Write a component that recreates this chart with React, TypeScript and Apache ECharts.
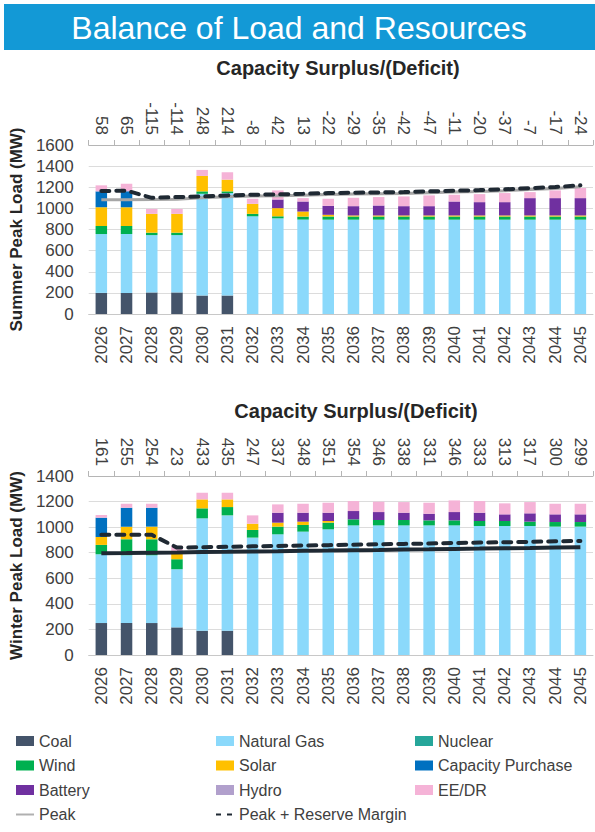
import React, { useEffect, useRef } from "react";
import * as echarts from "echarts";

const years = ["2026","2027","2028","2029","2030","2031","2032","2033","2034","2035","2036","2037","2038","2039","2040","2041","2042","2043","2044","2045"];

const surplusSummer = ["58","65","-115","-114","248","214","-8","42","13","-22","-29","-35","-42","-47","-11","-20","-37","-7","-17","-24"];
const surplusWinter = ["161","255","254","23","433","435","247","337","348","351","354","346","338","331","346","333","313","317","300","299"];

// Summer (MW)
const coalS = [200,200,204,204,175,175,0,0,0,0,0,0,0,0,0,0,0,0,0,0];
const gasS = [557,557,543,543,963,970,925,906,894,893,893,893,893,893,893,893,893,893,893,893];
const nuclearS = [0,0,0,0,0,0,0,0,0,0,0,0,0,0,0,0,0,0,0,0];
const windS = [76,76,23,23,23,16,23,19,28,30,30,30,30,30,30,30,30,30,30,30];
const solarS = [178,178,178,178,146,111,95,77,48,16,10,10,10,10,10,10,10,10,10,10];
const capS = [150,150,0,0,0,0,0,0,0,0,0,0,0,0,0,0,0,0,0,0];
const batteryS = [0,0,0,0,0,0,0,82,95,85,88,94,88,88,132,126,126,164,164,164];
const hydroS = [0,0,0,0,0,0,0,0,0,0,0,0,0,0,0,0,0,0,0,0];
const eeS = [57,73,47,47,57,70,48,86,32,67,79,80,92,102,64,76,86,57,73,96];
const peakS = [1082,1082,1084,1086,1100,1110,1116,1120,1125,1132,1135,1138,1141,1148,1154,1160,1167,1178,1188,1204];
const prmS = [1164,1168,1100,1107,1113,1123,1129,1132,1138,1145,1148,1151,1154,1161,1167,1173,1180,1192,1202,1218];

// Winter (MW)
const coalW = [250,250,250,216,190,190,0,0,0,0,0,0,0,0,0,0,0,0,0,0];
const gasW = [538,530,530,455,879,902,918,944,965,983,1014,1014,1014,1014,1014,1009,1009,1009,1004,1004];
const nuclearW = [0,0,0,0,0,0,0,0,0,0,0,0,0,0,0,0,0,0,0,0];
const windW = [73,125,125,78,78,65,60,60,52,52,47,42,42,39,39,39,39,34,36,36];
const solarW = [62,99,99,65,70,60,49,31,26,13,0,0,0,0,0,0,0,0,0,0];
const capW = [151,148,148,0,0,0,0,0,0,0,0,0,0,0,0,0,0,0,0,0];
const batteryW = [0,0,0,0,0,0,0,78,70,65,65,62,57,52,65,65,52,65,60,60];
const hydroW = [0,0,0,0,0,0,0,0,0,0,0,0,0,0,0,0,0,0,0,0];
const eeW = [21,31,31,40,52,52,65,65,70,78,78,81,83,86,91,91,86,88,83,83];
const peakW = [795,797,800,802,805,807,810,812,815,817,820,822,825,827,830,832,835,837,840,842];
const prmW = [940,940,940,840,843,846,850,853,856,859,863,866,869,872,876,879,882,885,889,892];

const COLORS: Record<string, string> = {
  "Coal": "#44546a",
  "Natural Gas": "#8bd9fb",
  "Nuclear": "#26a69a",
  "Wind": "#00b050",
  "Solar": "#ffc000",
  "Capacity Purchase": "#0070c0",
  "Battery": "#7030a0",
  "Hydro": "#b1a0cc",
  "EE/DR": "#f5b3d7",
};

const FONT = "'Liberation Sans', Arial, sans-serif";
const TXT = "#404040";

function barSeries(g: number, d: Record<string, number[]>) {
  return Object.keys(d).map((name) => ({
    name,
    type: "bar",
    stack: "s" + g,
    xAxisIndex: g * 2,
    yAxisIndex: g,
    barWidth: 11.5,
    itemStyle: { color: COLORS[name] },
    data: d[name],
    z: 2,
  }));
}

function catAxes(g: number, surplus: string[]) {
  return [
    {
      type: "category",
      gridIndex: g,
      position: "bottom",
      data: years,
      axisLine: { lineStyle: { color: "#c8c8c8", width: 1 } },
      axisTick: { show: false },
      axisLabel: { rotate: 90, fontSize: 17, color: TXT, margin: 12, fontFamily: FONT },
    },
    {
      type: "category",
      gridIndex: g,
      position: "top",
      data: surplus,
      axisLine: { onZero: false, lineStyle: { color: "#b5b5b5", width: 1 } },
      axisTick: { show: true, length: 5, lineStyle: { color: "#b5b5b5" } },
      axisLabel: { rotate: 90, fontSize: 17, color: TXT, margin: 10, fontFamily: FONT },
    },
  ];
}

function valAxis(g: number, max: number, name: string) {
  return {
    type: "value",
    gridIndex: g,
    min: 0,
    max,
    interval: 200,
    axisLine: { show: false },
    axisTick: { show: false },
    splitLine: { lineStyle: { color: "#dcdcdc", width: 1 } },
    axisLabel: { fontSize: 17, color: TXT, margin: 15, fontFamily: FONT, formatter: (v: number) => String(v) },
    name,
    nameLocation: "middle",
    nameRotate: 90,
    nameGap: 52,
    nameTextStyle: { fontSize: 17, fontWeight: "bold", color: "#262626", fontFamily: FONT },
  };
}

function lineSeries(g: number, peak: number[], prm: number[], peakColor: string) {
  return [
    {
      name: "Peak",
      type: "line",
      xAxisIndex: g * 2,
      yAxisIndex: g,
      data: peak,
      symbol: "none",
      itemStyle: { color: peakColor },
      lineStyle: { color: peakColor, width: g === 0 ? 3 : 4 },
      z: 4,
    },
    {
      name: "Peak + Reserve Margin",
      type: "line",
      xAxisIndex: g * 2,
      yAxisIndex: g,
      data: prm,
      symbol: "none",
      itemStyle: { color: "#1f2933" },
      lineStyle: { color: "#1f2933", width: 4, type: [8, 7], cap: "round" },
      z: 5,
    },
  ];
}

const legendBase = {
  orient: "vertical",
  itemWidth: 18,
  itemHeight: 10,
  itemGap: 8.5,
  textStyle: { fontSize: 16, color: TXT, fontFamily: FONT },
};

const option = {
  animation: false,
  textStyle: { fontFamily: FONT },
  graphic: [
    { type: "rect", shape: { x: 4, y: 4, width: 591, height: 46 }, style: { fill: "#1399d6" } },
    {
      type: "text", x: 299, y: 28,
      style: { text: "Balance of Load and Resources", fill: "#ffffff", fontSize: 32, fontFamily: FONT, align: "center", verticalAlign: "middle" },
    },
    {
      type: "text", x: 338, y: 68,
      style: { text: "Capacity Surplus/(Deficit)", fill: "#262626", fontSize: 20, fontWeight: "bold", fontFamily: FONT, align: "center", verticalAlign: "middle" },
    },
    {
      type: "text", x: 356, y: 411,
      style: { text: "Capacity Surplus/(Deficit)", fill: "#262626", fontSize: 20, fontWeight: "bold", fontFamily: FONT, align: "center", verticalAlign: "middle" },
    },
  ],
  grid: [
    { left: 87, right: 2, top: 145, height: 169 },
    { left: 87, right: 2, top: 476, height: 179 },
  ],
  xAxis: [...catAxes(0, surplusSummer), ...catAxes(1, surplusWinter)],
  yAxis: [valAxis(0, 1600, "Summer Peak Load (MW)"), valAxis(1, 1400, "Winter Peak Load (MW)")],
  legend: [
    {
      ...legendBase, left: 10, top: 728,
      data: [
        { name: "Coal", icon: "rect" }, { name: "Wind", icon: "rect" }, { name: "Battery", icon: "rect" },
        { name: "Peak", itemStyle: { opacity: 0 }, lineStyle: { width: 2, color: "#b0b0b0" } },
      ],
    },
    {
      ...legendBase, left: 210, top: 728,
      data: [
        { name: "Natural Gas", icon: "rect" }, { name: "Solar", icon: "rect" }, { name: "Hydro", icon: "rect" },
        { name: "Peak + Reserve Margin", itemStyle: { opacity: 0 }, lineStyle: { width: 2, type: [5, 6], cap: "butt" } },
      ],
    },
    {
      ...legendBase, left: 410, top: 728,
      data: [{ name: "Nuclear", icon: "rect" }, { name: "Capacity Purchase", icon: "rect" }, { name: "EE/DR", icon: "rect" }],
    },
  ],
  series: [
    ...barSeries(0, {
      "Coal": coalS, "Natural Gas": gasS, "Nuclear": nuclearS, "Wind": windS, "Solar": solarS,
      "Capacity Purchase": capS, "Battery": batteryS, "Hydro": hydroS, "EE/DR": eeS,
    }),
    ...lineSeries(0, peakS, prmS, "#a6a6a6"),
    ...barSeries(1, {
      "Coal": coalW, "Natural Gas": gasW, "Nuclear": nuclearW, "Wind": windW, "Solar": solarW,
      "Capacity Purchase": capW, "Battery": batteryW, "Hydro": hydroW, "EE/DR": eeW,
    }),
    ...lineSeries(1, peakW, prmW, "#1f2933"),
  ],
};

export default function App() {
  const ref = useRef<HTMLDivElement>(null);
  useEffect(() => {
    const chart = echarts.init(ref.current as HTMLDivElement, null, { renderer: "svg" });
    chart.setOption(option as any);
    return () => chart.dispose();
  }, []);
  return (
    <div
      ref={ref}
      style={{ position: "fixed", left: 0, top: 0, width: 595, height: 832, background: "#ffffff" }}
    />
  );
}
